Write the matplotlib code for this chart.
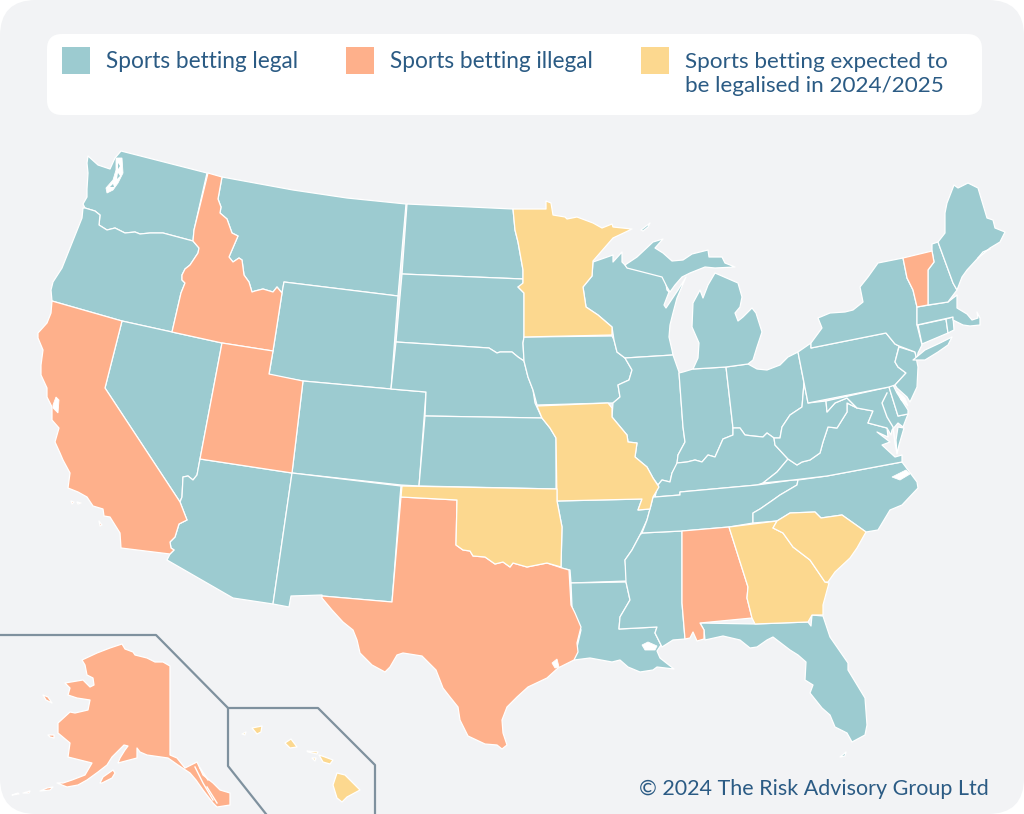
import matplotlib
matplotlib.use("Agg")
import matplotlib.pyplot as plt
from matplotlib.patches import FancyBboxPatch, Rectangle

# legend text and colours
legal_label = "Sports betting legal"
illegal_label = "Sports betting illegal"
expected_label = "Sports betting expected to\nbe legalised in 2024/2025"
credit_label = "\u00a9 2024 The Risk Advisory Group Ltd"
legal_colour = "#9ccbd0"
illegal_colour = "#feb08b"
expected_colour = "#fcd88f"
text_colour = "#2b5b84"
card_colour = "#f2f3f5"
inset_colour = "#7f919e"

# state outlines in pixels
WA = [(88,156),(98,165),(110,169),(115,158),(121,151),(207,173),(194,230),(193,241),(163,233),(150,233),(140,234),(135,232),(125,233),(115,228),(107,230),(99,225),(100,215),(95,211),(85,208),(83,204),(87,197),(87,189),(88,173),(87,163)]
OR = [(85,208),(95,211),(100,215),(99,225),(107,230),(115,228),(125,233),(135,232),(140,234),(150,233),(163,233),(193,241),(199,248),(198,253),(190,265),(185,269),(182,275),(182,280),(185,283),(181,293),(172,332),(122,321),(52,301),(51,290),(53,282),(62,268),(82,218),(83,208)]
CA = [(52,301),(122,321),(105,388),(180,502),(187,520),(179,524),(175,537),(170,542),(171,548),(174,550),(170,554),(121,548),(120,533),(110,517),(104,516),(103,509),(93,506),(87,497),(78,492),(68,488),(70,473),(63,460),(60,453),(55,442),(59,428),(52,420),(52,407),(47,397),(47,388),(41,375),(41,365),(43,350),(38,338),(38,333),(47,323),(51,313)]
NV = [(122,321),(172,332),(222,343),(200,459),(197,475),(193,480),(188,476),(183,477),(182,497),(180,502),(105,388)]
ID = [(208,173),(222,177),(218,199),(221,207),(220,213),(227,219),(232,233),(238,236),(229,257),(233,262),(239,258),(242,260),(244,275),(249,282),(252,292),(255,291),(263,289),(273,292),(277,287),(282,293),(273,351),(222,343),(172,332),(181,293),(185,283),(182,280),(182,275),(185,269),(190,265),(198,253),(199,248),(193,241),(194,230)]
MT = [(222,177),(293,190),(347,198),(406,204),(398,296),(284,282),(282,293),(277,287),(273,292),(263,289),(255,291),(252,292),(249,282),(244,275),(242,260),(239,258),(233,262),(229,257),(238,236),(232,233),(227,219),(220,213),(221,207),(218,199)]
WY = [(284,282),(398,296),(391,389),(303,381),(269,375),(273,351),(282,293)]
UT = [(222,343),(273,351),(269,374),(303,381),(292,473),(200,459)]
CO = [(303,381),(391,389),(426,392),(419,486),(401,485),(292,473)]
AZ = [(200,459),(292,473),(273,604),(233,598),(167,560),(170,554),(174,550),(171,548),(170,542),(175,537),(179,524),(187,520),(180,502),(182,497),(183,477),(188,476),(193,480),(197,475)]
NM = [(292,473),(401,486),(400,497),(392,602),(322,596),(322,595),(291,596),(289,607),(273,604)]
TX = [(401,497),(457,500),(456,545),(463,550),(470,551),(473,556),(485,557),(495,564),(503,562),(510,567),(513,563),(527,567),(547,563),(562,568),(569,570),(571,605),(575,613),(581,627),(577,643),(578,652),(574,660),(558,668),(547,678),(528,687),(517,697),(507,707),(502,720),(503,733),(507,745),(502,749),(497,745),(485,744),(468,736),(460,720),(458,707),(450,697),(443,688),(436,670),(422,656),(403,653),(397,655),(390,667),(385,672),(372,665),(360,653),(357,640),(353,630),(343,622),(332,610),(322,598),(322,596),(392,602)]
OK = [(402,486),(557,489),(557,501),(562,527),(561,567),(547,563),(527,567),(513,563),(510,567),(503,562),(495,564),(485,557),(473,556),(470,551),(463,550),(456,545),(457,500),(401,497)]
ND = [(407,204),(513,209),(515,230),(518,242),(523,270),(523,279),(402,274)]
SD = [(402,274),(523,279),(523,285),(518,287),(524,293),(524,337),(523,343),(524,361),(518,357),(512,352),(500,352),(497,353),(489,348),(396,342)]
NE = [(396,342),(489,348),(497,353),(500,352),(512,352),(518,357),(524,361),(528,377),(533,390),(535,403),(542,418),(425,416),(426,392),(391,389)]
KS = [(425,416),(542,418),(550,428),(556,438),(556,489),(419,486)]
MN = [(513,209),(546,209),(546,201),(551,203),(553,215),(565,217),(567,219),(577,217),(593,223),(602,228),(612,224),(613,227),(632,229),(613,238),(593,261),(592,276),(583,287),(586,307),(598,315),(612,327),(612,335),(524,337),(524,293),(518,287),(523,283),(523,270),(518,242),(515,230)]
IA = [(524,337),(612,336),(614,340),(617,352),(625,358),(632,370),(629,380),(618,385),(620,397),(613,403),(608,403),(537,405),(533,390),(528,377),(524,361),(523,343)]
MO = [(537,406),(608,403),(612,408),(612,417),(627,435),(628,442),(637,443),(635,457),(647,467),(653,478),(659,487),(653,497),(650,509),(638,510),(642,499),(557,501),(556,438),(550,428),(542,418)]
AR = [(557,501),(642,499),(638,510),(650,509),(647,520),(640,535),(632,550),(625,560),(627,581),(571,583),(570,570),(561,568),(562,527)]
LA = [(571,583),(626,582),(630,600),(620,617),(619,629),(657,627),(655,633),(661,645),(657,651),(660,658),(674,669),(657,667),(653,670),(640,672),(628,667),(620,660),(612,662),(590,658),(574,660),(578,643),(581,630),(572,607)]
MS = [(642,533),(682,531),(682,603),(685,639),(673,640),(662,647),(661,645),(655,633),(657,627),(619,629),(620,617),(630,600),(626,582),(625,560),(632,550),(640,535)]
AL = [(682,531),(729,527),(748,587),(747,598),(752,618),(700,623),(704,630),(704,639),(697,641),(693,632),(690,638),(685,639),(682,603)]
GA = [(729,527),(777,521),(773,528),(783,533),(793,547),(810,560),(825,582),(829,583),(823,605),(823,615),(812,615),(808,622),(755,624),(752,618),(747,598),(748,587)]
SC = [(777,521),(790,513),(815,512),(821,518),(842,515),(866,532),(857,548),(850,558),(835,572),(828,582),(825,582),(810,560),(793,547),(783,533),(773,528)]
NC = [(753,523),(753,513),(760,509),(773,500),(780,495),(797,485),(798,480),(827,476),(902,462),(917,482),(918,488),(902,505),(890,510),(878,530),(866,532),(842,515),(821,518),(815,512),(790,513),(777,521)]
TN = [(642,533),(647,520),(650,509),(653,497),(655,497),(680,495),(680,492),(757,485),(793,480),(798,480),(797,485),(780,495),(773,500),(760,509),(753,513),(753,523),(729,527),(682,531)]
KY = [(658,485),(655,497),(680,495),(680,492),(757,485),(763,483),(777,472),(788,459),(775,445),(774,438),(767,433),(763,437),(753,436),(745,435),(740,428),(733,428),(733,435),(723,439),(715,457),(708,455),(702,462),(695,460),(687,462),(677,463),(672,473),(670,482),(662,480)]
WI = [(593,262),(613,255),(613,262),(622,252),(622,262),(628,268),(660,274),(665,278),(667,290),(669,292),(664,305),(666,308),(678,290),(686,277),(677,298),(673,313),(670,325),(669,337),(672,350),(673,355),(625,358),(617,352),(614,340),(612,327),(598,315),(586,307),(583,287),(592,276)]
IL = [(625,358),(673,355),(679,372),(683,427),(685,442),(678,455),(677,465),(672,473),(670,482),(662,480),(658,485),(653,478),(647,467),(635,457),(637,443),(628,442),(627,435),(612,417),(613,403),(620,397),(618,385),(629,380),(632,370)]
IN = [(679,373),(683,372),(693,369),(726,367),(733,428),(733,435),(723,439),(715,457),(708,455),(702,462),(695,460),(687,462),(677,463),(678,455),(685,442),(683,427)]
OH = [(726,367),(748,364),(757,369),(767,370),(780,365),(788,357),(798,352),(804,383),(802,407),(790,415),(782,427),(780,438),(774,438),(767,433),(763,437),(753,436),(745,435),(740,428),(733,428)]
MI_LOWER = [(693,369),(698,358),(699,343),(692,327),(693,303),(700,290),(703,298),(708,285),(715,273),(738,283),(742,297),(740,307),(735,313),(738,321),(743,317),(752,308),(756,313),(762,332),(757,347),(753,360),(748,364),(726,367)]
MI_UPPER = [(625,265),(637,257),(653,242),(663,239),(655,248),(663,253),(672,261),(683,260),(692,254),(708,250),(709,257),(722,257),(725,263),(735,267),(715,268),(705,267),(690,273),(682,277),(675,285),(670,292),(667,287),(662,277),(627,268)]
ISLE_ROYALE = [(641,230),(650,223),(648,227),(643,231)]
PA = [(798,352),(811,343),(811,348),(886,333),(895,344),(899,346),(895,362),(898,367),(906,373),(895,385),(889,387),(808,403)]
NY = [(811,343),(822,328),(818,318),(830,313),(845,312),(853,310),(863,302),(860,287),(868,277),(878,263),(903,258),(907,278),(913,290),(917,307),(917,325),(922,345),(918,353),(917,360),(915,352),(899,346),(895,344),(886,333),(811,348)]
LONG_ISLAND = [(913,360),(925,350),(940,343),(952,337),(948,345),(938,352),(925,360)]
VT = [(903,258),(932,251),(934,262),(928,270),(928,305),(917,307),(913,290),(907,278)]
NH = [(932,244),(938,242),(953,283),(957,290),(948,302),(928,305),(928,270),(934,262),(932,251)]
ME = [(938,242),(945,233),(945,213),(947,203),(954,185),(958,188),(968,183),(978,188),(987,218),(993,220),(995,228),(1005,232),(1000,242),(990,248),(978,258),(967,270),(962,277),(957,290),(953,283)]
MA = [(917,307),(948,302),(957,295),(957,308),(967,314),(972,320),(978,318),(977,312),(980,318),(980,325),(970,326),(963,325),(953,320),(953,317),(917,325)]
CT = [(918,325),(946,319),(948,333),(922,344)]
RI = [(946,319),(953,317),(954,330),(948,333)]
NJ = [(899,347),(915,352),(918,367),(917,387),(910,402),(907,397),(897,388),(895,385),(906,373),(898,367),(895,362)]
DE = [(889,387),(893,385),(897,393),(908,410),(908,414),(898,416)]
MD = [(826,401),(889,387),(898,416),(908,414),(903,427),(898,423),(892,430),(891,435),(887,428),(868,423),(873,411),(857,408),(847,398),(835,403),(827,412)]
WV = [(808,403),(826,401),(827,412),(835,403),(847,398),(857,408),(847,403),(847,412),(837,428),(828,427),(823,442),(820,453),(810,460),(802,462),(797,465),(788,459),(775,445),(774,438),(780,438),(782,427),(790,415),(802,407),(804,383)]
VA = [(763,483),(793,480),(827,476),(902,462),(902,455),(895,457),(882,445),(890,442),(877,432),(888,437),(887,428),(868,423),(873,411),(857,408),(847,403),(847,412),(837,428),(828,427),(823,442),(820,453),(810,460),(802,462),(797,465),(788,459),(777,472)]
VA_SHORE = [(904,428),(899,445),(897,454),(896,440),(898,427)]
FL = [(700,623),(755,624),(808,622),(811,626),(812,615),(823,616),(830,637),(848,663),(848,670),(865,698),(867,725),(865,735),(852,742),(847,733),(835,727),(830,715),(822,708),(810,693),(813,685),(805,680),(806,662),(798,655),(790,650),(773,637),(767,640),(757,647),(750,648),(740,640),(723,636),(705,640),(704,630)]
FL_KEYS = [(840,757),(846,752),(845,756)]
AK = [(82,660),(97,653),(110,648),(122,644),(125,649),(133,652),(135,655),(147,658),(155,662),(163,662),(170,666),(170,755),(177,758),(185,768),(197,762),(203,775),(213,783),(220,790),(230,793),(230,805),(217,807),(213,803),(203,790),(196,780),(190,773),(178,765),(168,758),(147,755),(140,752),(137,748),(137,758),(118,763),(120,758),(125,750),(128,746),(124,745),(112,757),(107,765),(98,772),(87,780),(78,785),(67,787),(57,783),(63,783),(72,780),(85,775),(92,763),(80,760),(68,757),(70,743),(58,733),(58,723),(70,712),(75,713),(88,710),(90,700),(77,698),(68,695),(70,688),(65,683),(83,680),(90,687),(94,685),(93,678),(87,675),(85,665)]
ALEUTIAN_1 = [(40,791),(47,788),(53,787),(50,790)]
ALEUTIAN_2 = [(23,793),(30,791),(29,793)]
ALEUTIAN_3 = [(12,795),(18,793),(19,794)]
ST_LAWRENCE = [(43,695),(48,697),(52,703),(46,700)]
NUNIVAK = [(48,735),(54,735),(54,738),(50,737)]
KODIAK = [(100,783),(103,777),(113,770),(115,773),(112,778),(102,783)]
CHANNEL_IS_1 = [(71,501),(74,502),(72,504)]
CHANNEL_IS_2 = [(77,502),(81,503),(78,504)]
CHANNEL_IS_3 = [(99,521),(102,525),(100,526)]
KAUAI = [(252,728),(262,726),(261,732),(257,734)]
NIIHAU = [(242,734),(246,732),(245,735)]
OAHU = [(285,743),(291,739),(297,747),(290,748)]
MOLOKAI = [(307,751),(318,752),(317,754),(308,752)]
LANAI = [(312,758),(316,758),(315,761)]
MAUI = [(319,755),(325,757),(333,760),(330,764),(323,762)]
BIG_ISLAND = [(337,773),(345,775),(350,780),(360,790),(347,797),(342,802),(337,798),(333,785)]

legal_states = [WA, OR, NV, MT, WY, CO, AZ, NM, ND, SD, NE, KS, IA, AR, LA, MS, WI, IL, IN, OH,
                MI_LOWER, MI_UPPER, ISLE_ROYALE, KY, TN, NC, VA, VA_SHORE, WV, MD, DE, PA, NJ,
                NY, LONG_ISLAND, CT, RI, MA, NH, ME, FL, FL_KEYS]
illegal_states = [CA, ID, UT, TX, AL, VT, AK, ALEUTIAN_1, ALEUTIAN_2, ALEUTIAN_3, ST_LAWRENCE,
                  NUNIVAK, KODIAK, CHANNEL_IS_1, CHANNEL_IS_2, CHANNEL_IS_3]
expected_states = [MN, MO, OK, GA, SC, KAUAI, NIIHAU, OAHU, MOLOKAI, LANAI, MAUI, BIG_ISLAND]

# bays and sounds that show up white in the picture
PUGET_SOUND = [(116,158),(122,158),(123,173),(118,183),(113,190),(107,193),(106,188),(113,180),(116,170)]
SF_BAY = [(53,405),(56,397),(59,400),(58,413),(53,408)]
PONTCHARTRAIN = [(642,645),(648,642),(657,646),(655,650),(645,650)]
GALVESTON = [(552,663),(557,659),(559,667),(555,668)]
DELAWARE_BAY = [(897,391),(905,398),(908,406),(901,400)]
PAMLICO = [(892,477),(906,470),(910,474),(900,480)]
white_water = [PUGET_SOUND, SF_BAY, PONTCHARTRAIN, GALVESTON, DELAWARE_BAY, PAMLICO]

# islands left in the sound
PUGET_ISLE_1 = [(118,163),(120,166),(118,169)]
PUGET_ISLE_2 = [(118,173),(120,176),(117,179)]
PUGET_ISLE_3 = [(110,187),(113,184),(114,187)]
sound_islands = [PUGET_ISLE_1, PUGET_ISLE_2, PUGET_ISLE_3]

CHESAPEAKE = [(887,393),(882,403),(887,417),(893,427),(895,443),(897,453)]
SE_ALASKA_1 = [(195,767),(203,783),(213,800)]
SE_ALASKA_2 = [(200,768),(208,780)]
SE_ALASKA_3 = [(207,787),(217,803)]
MAINE_ISLES = [(978,258),(983,252),(990,249)]
white_lines = [CHESAPEAKE, SE_ALASKA_1, SE_ALASKA_2, SE_ALASKA_3, MAINE_ISLES]

ALASKA_BOX = [(0,635),(156,635),(228,708)]
HAWAII_BOX = [(266,814),(228,766),(228,708),(318,708),(375,765),(375,814)]

fig = plt.figure(figsize=(10.24, 8.14), dpi=100, facecolor="white")
ax = fig.add_axes([0, 0, 1, 1])
ax.set_xlim(0, 1024)
ax.set_ylim(814, 0)
ax.axis("off")

ax.add_patch(FancyBboxPatch((0, 0), 1024, 814, boxstyle="round,pad=0,rounding_size=36",
                            fc=card_colour, ec="none", zorder=0))
ax.add_patch(FancyBboxPatch((47, 34), 935, 81, boxstyle="round,pad=0,rounding_size=15",
                            fc="white", ec="none", zorder=1))

def draw_states(states, colour, order=2):
    for outline in states:
        xs, ys = zip(*outline)
        ax.fill(xs, ys, fc=colour, ec="white", lw=0.9, joinstyle="round", zorder=order)

draw_states(legal_states, legal_colour)
draw_states(illegal_states, illegal_colour)
draw_states(expected_states, expected_colour)

for outline in white_water:
    xs, ys = zip(*outline)
    ax.fill(xs, ys, fc="white", ec="white", lw=0.6, zorder=3)
for outline in sound_islands:
    xs, ys = zip(*outline)
    ax.fill(xs, ys, fc=legal_colour, ec="none", zorder=3.5)
for outline in white_lines:
    xs, ys = zip(*outline)
    ax.plot(xs, ys, color="white", lw=1.0, zorder=3)

for outline in (ALASKA_BOX, HAWAII_BOX):
    xs, ys = zip(*outline)
    ax.plot(xs, ys, color=inset_colour, lw=1.6, zorder=3)

# legend
font = "Lato"
for x, colour in ((62, legal_colour), (346, illegal_colour), (641, expected_colour)):
    ax.add_patch(Rectangle((x, 47), 28, 27, fc=colour, ec="none", zorder=3))
for x, label in ((106, legal_label), (390, illegal_label)):
    ax.text(x, 61.5, label, color=text_colour, fontsize=16.3, family=font, va="center", zorder=4)
ax.text(685, 74, expected_label, color=text_colour, fontsize=16.2, family=font, va="center",
        linespacing=1.27, zorder=4)
ax.text(639, 789, credit_label, color=text_colour, fontsize=15.45, family=font, va="center", zorder=4)

fig.savefig("out.png", dpi=100)
